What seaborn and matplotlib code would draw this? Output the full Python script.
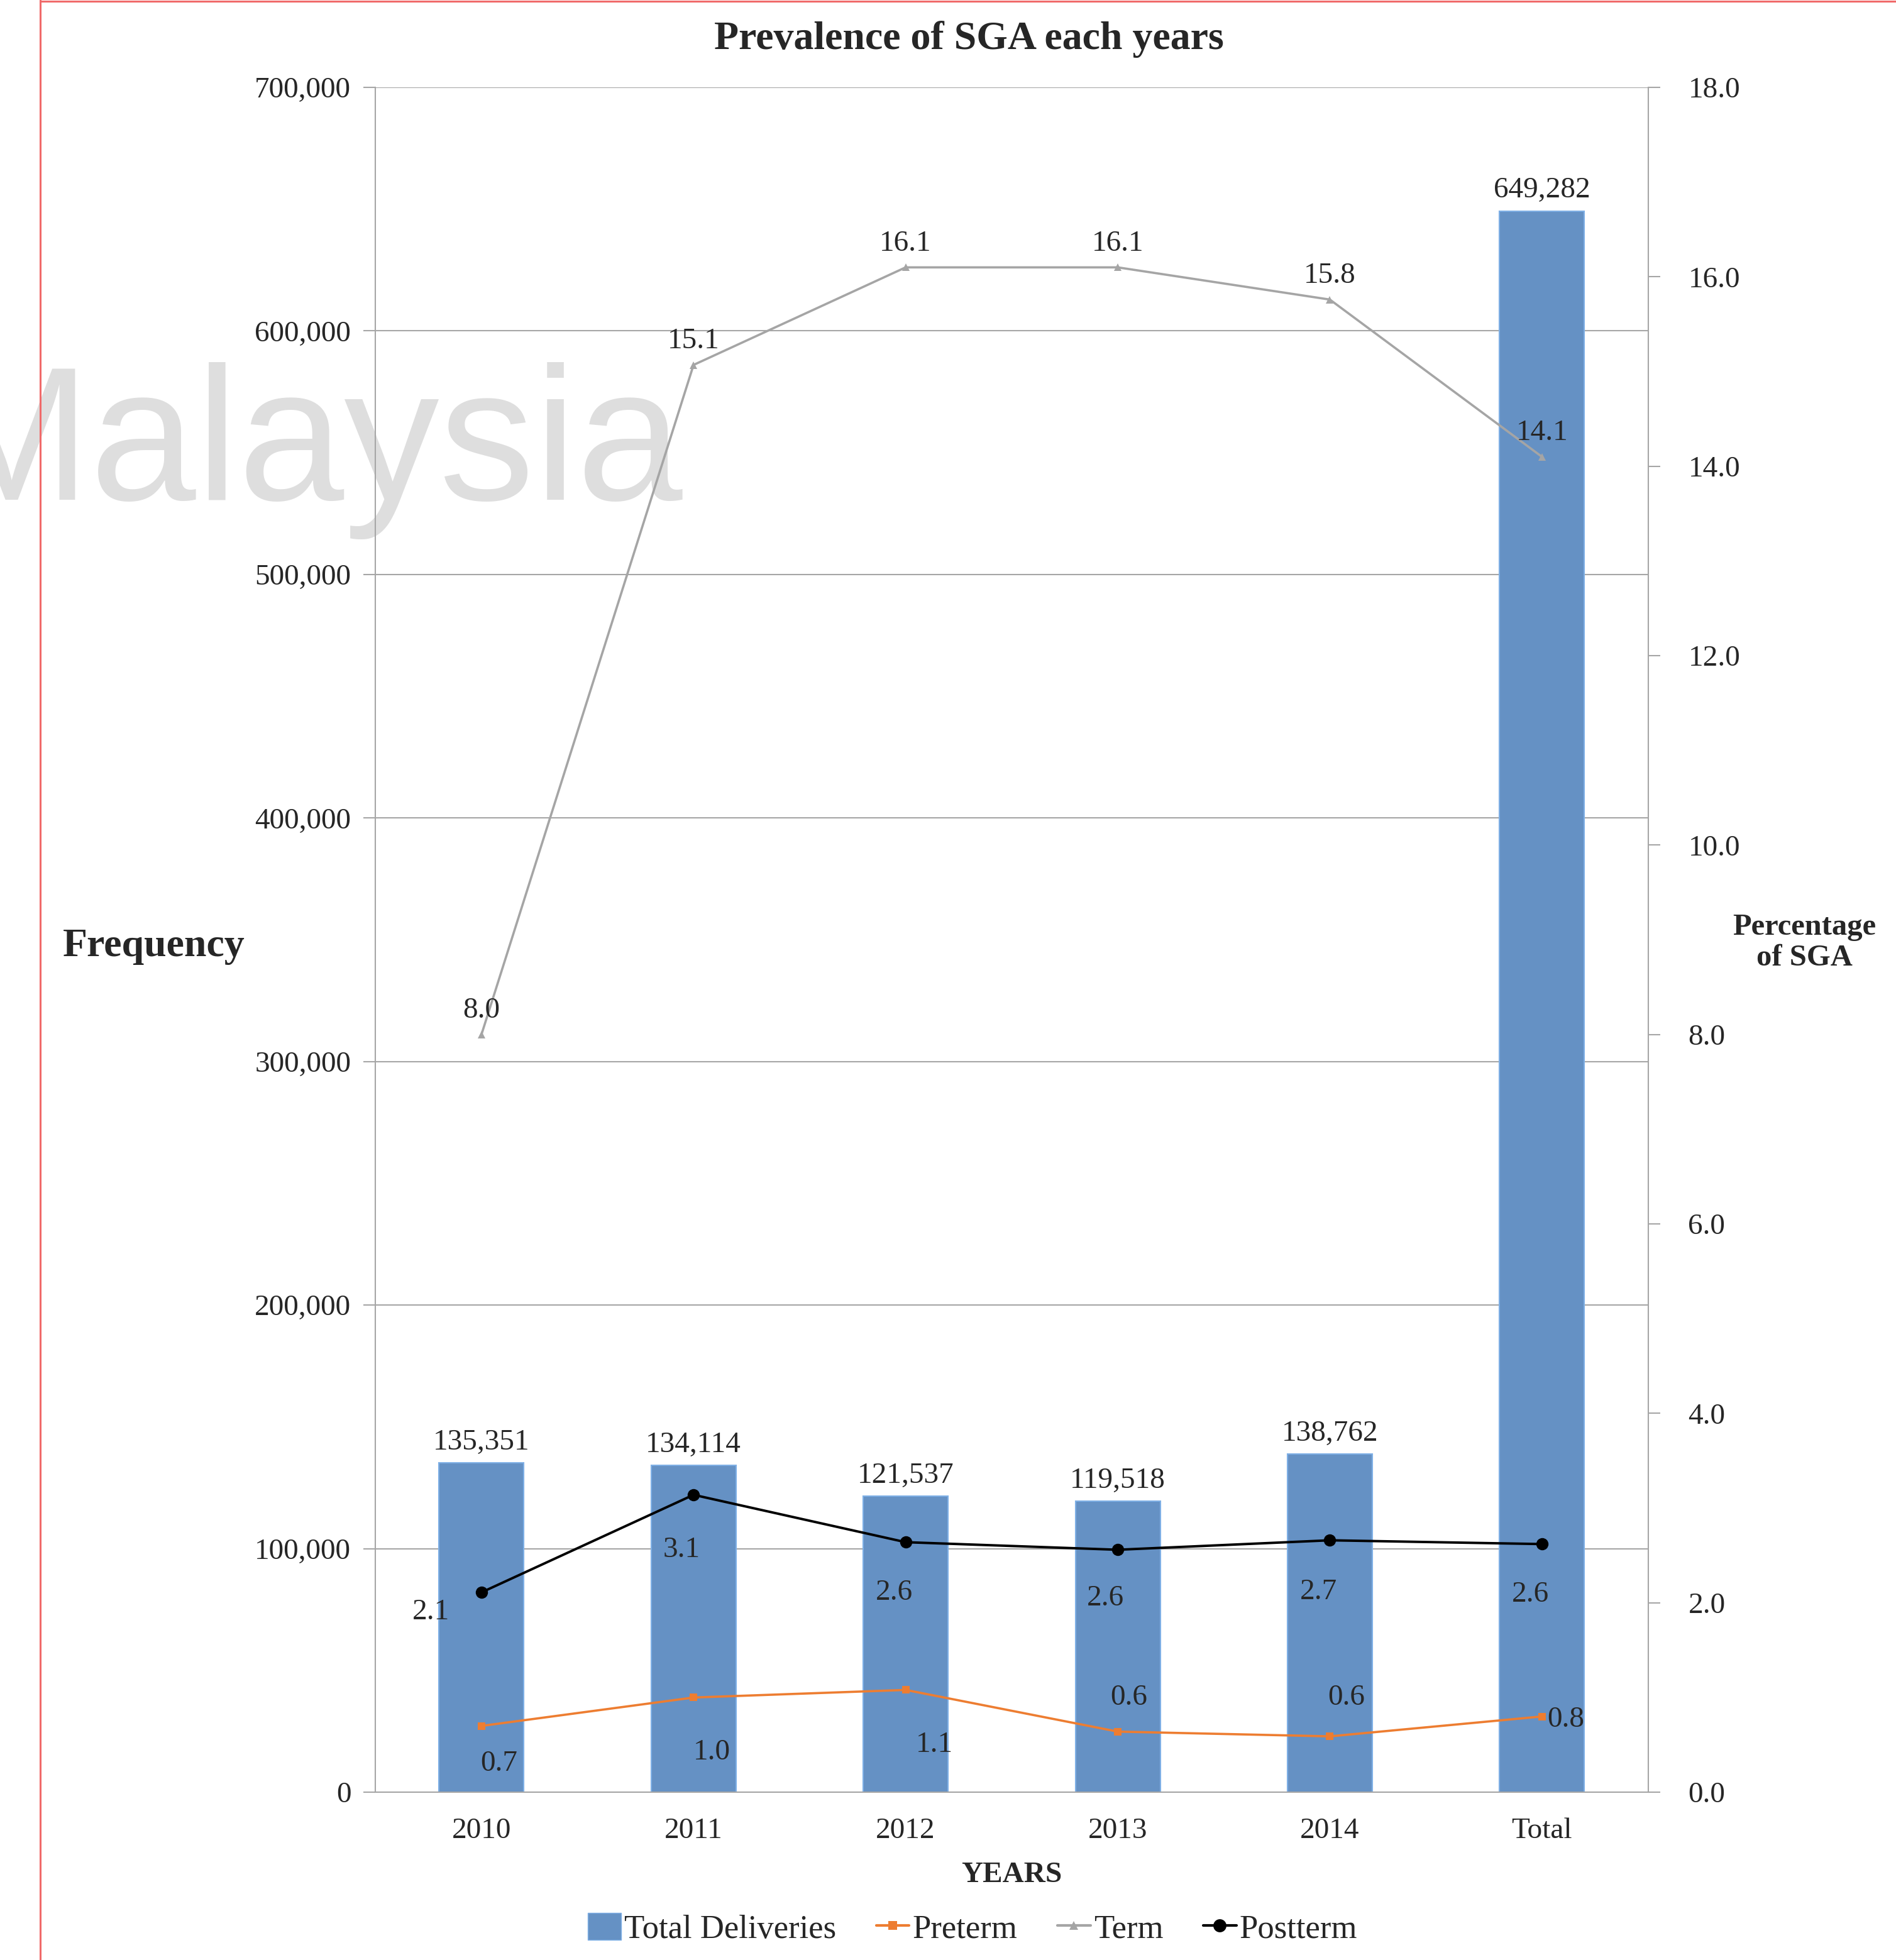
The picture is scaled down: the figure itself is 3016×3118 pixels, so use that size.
import numpy as np
import pandas as pd
import matplotlib
matplotlib.use("Agg")
import matplotlib.pyplot as plt
from matplotlib.lines import Line2D
from matplotlib.patches import Patch
from matplotlib.ticker import FuncFormatter, MultipleLocator
import seaborn as sns

# ---------------- data ----------------
years = ["2010", "2011", "2012", "2013", "2014", "Total"]
total_deliveries = [135351, 134114, 121537, 119518, 138762, 649282]
preterm = [0.70, 1.00, 1.08, 0.64, 0.59, 0.80]
term = [8.0, 15.07, 16.1, 16.1, 15.76, 14.1]
postterm = [2.11, 3.14, 2.64, 2.56, 2.66, 2.62]

# label offsets in points (layout only)
pre_off = [(20, -43), (21, -63), (33, -63), (13, 39), (19, 44), (27, -4)]
post_off = [(-58, -23), (-14, -63), (-13, -58), (-14, -56), (-13, -59), (-13, -58)]

sns.set_theme(style="white")
plt.rcParams["font.family"] = ["Liberation Serif", "DejaVu Serif"]

fig = plt.figure(figsize=(30.16, 31.18), dpi=100)
ax = fig.add_axes([0.198, 0.0856, 0.6712, 0.8698])
ax.patch.set_visible(False)
ax2 = ax.twinx()
ax2.patch.set_visible(False)

# watermark (behind everything)
fig.text(-0.036, 0.745, "Malaysia", fontsize=218, color="#dedede",
         family="Liberation Sans", ha="left", va="baseline", zorder=-5)

df = pd.DataFrame({"year": years, "total": total_deliveries})
pos = np.arange(len(years))

sns.barplot(data=df, x="year", y="total", color="#6591c4", saturation=1,
            width=0.4, edgecolor="#7fb0e6", linewidth=1.5, ax=ax, zorder=2)
for p, v in zip(pos, total_deliveries):
    ax.annotate(f"{v:,}", (p, v), xytext=(0, 8), textcoords="offset points",
                ha="center", va="bottom", fontsize=34)

ax.set_ylim(0, 700000)
ax.set_xlim(-0.5, len(years) - 0.5)
ax.yaxis.set_major_locator(MultipleLocator(100000))
ax.yaxis.set_major_formatter(FuncFormatter(lambda v, _: f"{int(v):,}"))
ax.grid(axis="y", color="#a6a6a6", linewidth=1.5, zorder=0)
ax.set_axisbelow(True)
ax.set_xticks(pos)
ax.set_xticklabels(years)
ax.set_xticks(np.arange(-0.5, len(years)), minor=True)
ax.tick_params(axis="x", which="major", length=0, labelsize=34, pad=29)
ax.tick_params(axis="x", which="minor", length=14, width=1.5, color="#a6a6a6", direction="out")
ax.tick_params(axis="y", length=14, width=1.5, color="#a6a6a6", labelsize=34, pad=14, direction="out")
ax.set_xlabel("YEARS", fontsize=34, fontweight="bold", labelpad=20)
ax.set_ylabel("")
fig.text(0.033, 0.517, "Frequency", fontsize=46, fontweight="bold", ha="left", va="center")

for s in ["left", "right", "bottom"]:
    ax.spines[s].set_color("#a6a6a6")
    ax.spines[s].set_linewidth(1.5)
ax.spines["top"].set_visible(False)
for s in ["left", "right", "bottom", "top"]:
    ax2.spines[s].set_visible(False)

# lines on secondary axis
sns.lineplot(x=pos, y=term, color="#a5a5a5", marker="^", markersize=9,
             markeredgewidth=0, linewidth=2.6, ax=ax2, zorder=3)
sns.lineplot(x=pos, y=preterm, color="#ed7d31", marker="s", markersize=9,
             markeredgewidth=0, linewidth=2.6, ax=ax2, zorder=3)
sns.lineplot(x=pos, y=postterm, color="black", marker="o", markersize=14,
             markeredgewidth=0, linewidth=2.8, ax=ax2, zorder=4)

for p, v in zip(pos, term):
    ax2.annotate(f"{v:.1f}", (p, v), xytext=(0, 12), textcoords="offset points",
                 ha="center", va="bottom", fontsize=34)
for p, v, o in zip(pos, preterm, pre_off):
    ax2.annotate(f"{v:.1f}", (p, v), xytext=o, textcoords="offset points",
                 ha="center", va="center", fontsize=34)
for p, v, o in zip(pos, postterm, post_off):
    ax2.annotate(f"{v:.1f}", (p, v), xytext=o, textcoords="offset points",
                 ha="center", va="center", fontsize=34)

ax2.set_ylim(0, 18)
ax2.set_xlim(-0.5, len(years) - 0.5)
ax2.yaxis.set_major_locator(MultipleLocator(2))
ax2.yaxis.set_major_formatter(FuncFormatter(lambda v, _: f"{v:.1f}"))
ax2.tick_params(axis="y", length=14, width=1.5, color="#a6a6a6", labelsize=34, pad=32, direction="out")
ax2.set_ylabel("")
ax2.grid(False)
fig.text(0.9517, 0.519, "Percentage\nof SGA", fontsize=35, fontweight="bold",
         ha="center", va="center", linespacing=1.15)

fig.text(0.511, 0.980, "Prevalence of SGA each years", fontsize=46,
         fontweight="bold", ha="center", va="center")

# legend
handles = [
    Patch(facecolor="#6591c4", edgecolor="#7fb0e6"),
    Line2D([], [], color="#ed7d31", marker="s", markersize=10, markeredgewidth=0, linewidth=3),
    Line2D([], [], color="#a5a5a5", marker="^", markersize=10, markeredgewidth=0, linewidth=3),
    Line2D([], [], color="black", marker="o", markersize=15, markeredgewidth=0, linewidth=3),
]
fig.legend(handles, ["Total Deliveries", "Preterm", "Term", "Postterm"],
           loc="center", bbox_to_anchor=(0.513, 0.016), ncol=4, frameon=False,
           fontsize=38, handlelength=1.0, handleheight=0.9, handletextpad=0.1,
           columnspacing=1.2)

# red border lines
fig.add_artist(Line2D([0.0212, 0.0212], [0, 1], color="#f06a6a", linewidth=2.2, transform=fig.transFigure))
fig.add_artist(Line2D([0.0212, 1], [0.9993, 0.9993], color="#f06a6a", linewidth=2.2, transform=fig.transFigure))

for a in (ax, ax2):
    if a.get_legend() is not None:
        a.get_legend().remove()

fig.savefig("out.png", dpi=100, facecolor="white")
